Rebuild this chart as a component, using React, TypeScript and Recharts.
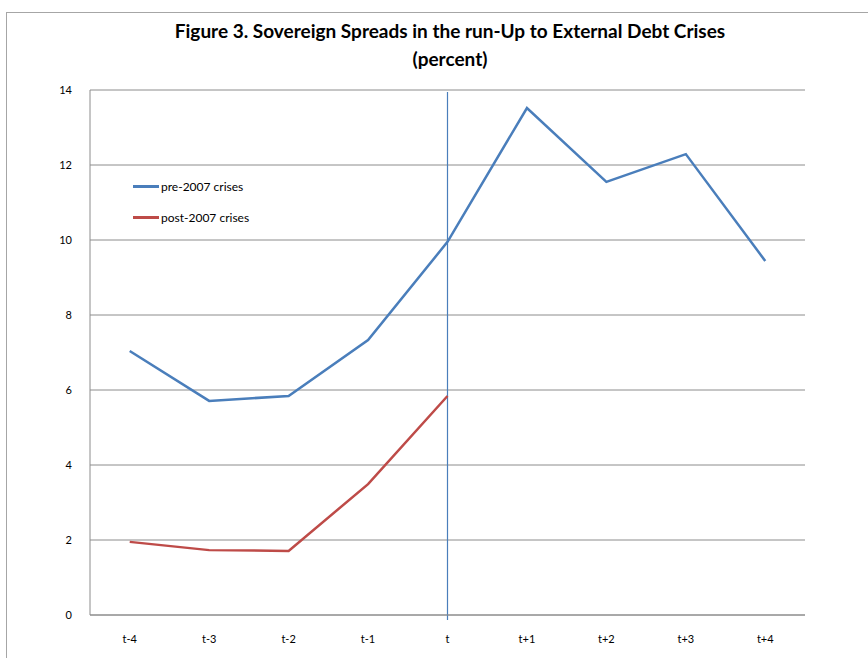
import {
  LineChart,
  Line,
  CartesianGrid,
  XAxis,
  YAxis,
  ReferenceLine,
} from "recharts";

const periods = ["t-4", "t-3", "t-2", "t-1", "t", "t+1", "t+2", "t+3", "t+4"];
const preCrises = [7.04, 5.71, 5.84, 7.33, 9.95, 13.52, 11.55, 12.29, 9.44];
const postCrises = [1.95, 1.73, 1.71, 3.49, 5.84, null, null, null, null];
const yTicks = [0, 2, 4, 6, 8, 10, 12, 14];

const FONT = "Lato, 'Liberation Sans', sans-serif";
const BLUE = "#4a7ebb";
const RED = "#be4b48";

const data = periods.map((p, i) => ({
  period: p,
  pre: preCrises[i],
  post: postCrises[i],
}));

// legend sits inside the plot, top-left
function LegendBox() {
  const items = [
    { label: "pre-2007 crises", color: BLUE },
    { label: "post-2007 crises", color: RED },
  ];
  return (
    <div
      style={{
        position: "absolute",
        left: 133,
        top: 171,
        fontFamily: FONT,
        fontSize: 12,
        color: "#000",
      }}
    >
      {items.map((it) => (
        <div
          key={it.label}
          style={{ display: "flex", alignItems: "center", height: 31 }}
        >
          <span
            style={{
              display: "inline-block",
              width: 26,
              height: 3,
              background: it.color,
              marginRight: 2,
            }}
          />
          {it.label}
        </div>
      ))}
    </div>
  );
}

// crisis marker: runs a little past the x axis like the original
const CrisisLine = (p: any) => {
  const top = Math.min(p.y1, p.y2);
  const bottom = Math.max(p.y1, p.y2);
  return (
    <line
      x1={p.x1}
      y1={top + 2}
      x2={p.x2}
      y2={bottom + 5}
      style={{ stroke: BLUE, strokeWidth: 1.2 }}
    />
  );
};

export default function App() {
  return (
    <div
      style={{
        position: "absolute",
        left: 0,
        top: 0,
        width: 868,
        height: 658,
        overflow: "hidden",
        background: "#fff",
        fontFamily: FONT,
      }}
    >
      <div
        style={{
          position: "absolute",
          left: 6,
          top: 12,
          width: 880,
          height: 700,
          border: "1px solid #a6a6a6",
        }}
      />
      <div
        style={{
          position: "absolute",
          left: 0,
          top: 17,
          width: 900,
          textAlign: "center",
          fontWeight: "bold",
          fontSize: 19,
          lineHeight: "28px",
        }}
      >
        Figure 3. Sovereign Spreads in the run-Up to External Debt Crises
        <br />
        (percent)
      </div>
      <LineChart
        width={868}
        height={658}
        data={data}
        margin={{ top: 90, right: 63, bottom: 13, left: 50 }}
      >
        <CartesianGrid vertical={false} stroke="#8c8c8c" strokeWidth={1} />
        <XAxis
          dataKey="period"
          scale="band"
          tickLine={false}
          axisLine={{ stroke: "#8c8c8c" }}
          height={30}
          tickMargin={14}
          tick={{ fontSize: 11, fill: "#000", fontFamily: FONT }}
        />
        <YAxis
          domain={[0, 14]}
          ticks={yTicks}
          width={40}
          tickLine={false}
          axisLine={{ stroke: "#8c8c8c" }}
          tickMargin={12}
          tick={{ fontSize: 11, fill: "#000", fontFamily: FONT }}
        />
        <ReferenceLine x="t" stroke={BLUE} shape={CrisisLine} />
        <Line
          dataKey="pre"
          name="pre-2007 crises"
          stroke={BLUE}
          strokeWidth={2.5}
          dot={false}
          isAnimationActive={false}
        />
        <Line
          dataKey="post"
          name="post-2007 crises"
          stroke={RED}
          strokeWidth={2.5}
          dot={false}
          isAnimationActive={false}
        />
      </LineChart>
      <LegendBox />
    </div>
  );
}
